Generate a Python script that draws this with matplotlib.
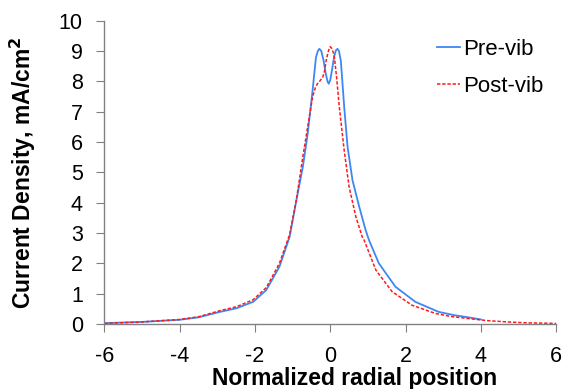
import matplotlib.pyplot as plt

plt.rcParams['font.family'] = ['Liberation Sans', 'DejaVu Sans']
plt.rcParams['axes.unicode_minus'] = False

# Pre-vib (blue, solid)
pre_x = [-6.0, -5.0, -4.0, -3.5, -2.93, -2.49, -2.05, -1.70, -1.35, -1.08, -0.90,
         -0.73, -0.60, -0.47, -0.38, -0.33, -0.29, -0.24, -0.18, -0.12, -0.07,
         -0.04, 0.0, 0.05, 0.10, 0.15, 0.19, 0.23, 0.28, 0.32, 0.37, 0.46, 0.59,
         0.77, 0.94, 1.03, 1.29, 1.73, 2.26, 2.88, 3.3, 3.67, 4.0]
pre_y = [0.03, 0.07, 0.14, 0.22, 0.40, 0.52, 0.73, 1.12, 1.89, 2.87, 4.08,
         5.17, 6.27, 7.70, 8.79, 9.00, 9.07, 9.00, 8.70, 8.25, 7.98,
         7.92, 8.05, 8.40, 8.80, 9.02, 9.07, 9.00, 8.68, 8.00, 7.15, 5.83, 4.74,
         3.86, 3.09, 2.76, 2.00, 1.23, 0.73, 0.40, 0.29, 0.22, 0.15]

# Post-vib (red, dashed)
post_x = [-6.0, -5.0, -4.0, -3.5, -2.93, -2.49, -2.05, -1.70, -1.35, -1.08, -0.90,
          -0.73, -0.60, -0.47, -0.40, -0.34, -0.27, -0.20, -0.15, -0.11, -0.07,
          -0.03, 0.0, 0.04, 0.08, 0.11, 0.17, 0.24, 0.37, 0.50, 0.68, 0.85, 0.90,
          1.21, 1.64, 2.17, 2.79, 3.2, 3.67, 4.2, 4.7, 5.2, 5.6, 6.0]
post_y = [0.02, 0.07, 0.15, 0.24, 0.44, 0.57, 0.80, 1.20, 2.00, 2.95, 4.10,
          5.50, 6.50, 7.48, 7.78, 7.92, 8.02, 8.14, 8.35, 8.68, 8.90,
          9.08, 9.14, 9.08, 8.95, 8.79, 8.10, 7.15, 5.72, 4.52, 3.53, 2.87, 2.76,
          1.78, 1.07, 0.62, 0.35, 0.25, 0.18, 0.11, 0.07, 0.04, 0.03, 0.02]

fig = plt.figure(figsize=(5.67, 3.89), dpi=100)
ax = fig.add_axes([0.184, 0.167, 0.797, 0.780])

ax.plot(pre_x, pre_y, color='#3d87f5', lw=1.3, label='Pre-vib')
ax.plot(post_x, post_y, color='#ff1a1a', lw=1.1, dashes=(2.2, 1.2), label='Post-vib')

ax.set_xlim(-6, 6)
ax.set_ylim(0, 10)
ax.set_xticks(range(-6, 7, 2))
ax.set_yticks(range(0, 11))
ax.spines['top'].set_visible(False)
ax.spines['right'].set_visible(False)
for s in ['left', 'bottom']:
    ax.spines[s].set_color('#808080')
    ax.spines[s].set_linewidth(1.0)
ax.tick_params(axis='both', direction='out', length=5.5, color='#808080',
               labelsize=15.5, labelcolor='black', pad=10)

ax.set_xlabel('Normalized radial position', fontsize=16.5, fontweight='bold')
ax.set_ylabel('Current Density, mA/cm$^\\mathbf{2}$', fontsize=16.5, fontweight='bold')
ax.xaxis.set_label_coords(0.553, -0.142)
ax.yaxis.set_label_coords(-0.147, 0.5)

ax.legend(loc='upper left', bbox_to_anchor=(0.737, 0.94), frameon=False, fontsize=16,
          borderaxespad=0, borderpad=0,
          handlelength=1.0, handletextpad=0.14, labelspacing=0.74)

fig.savefig('out.png', dpi=100)
